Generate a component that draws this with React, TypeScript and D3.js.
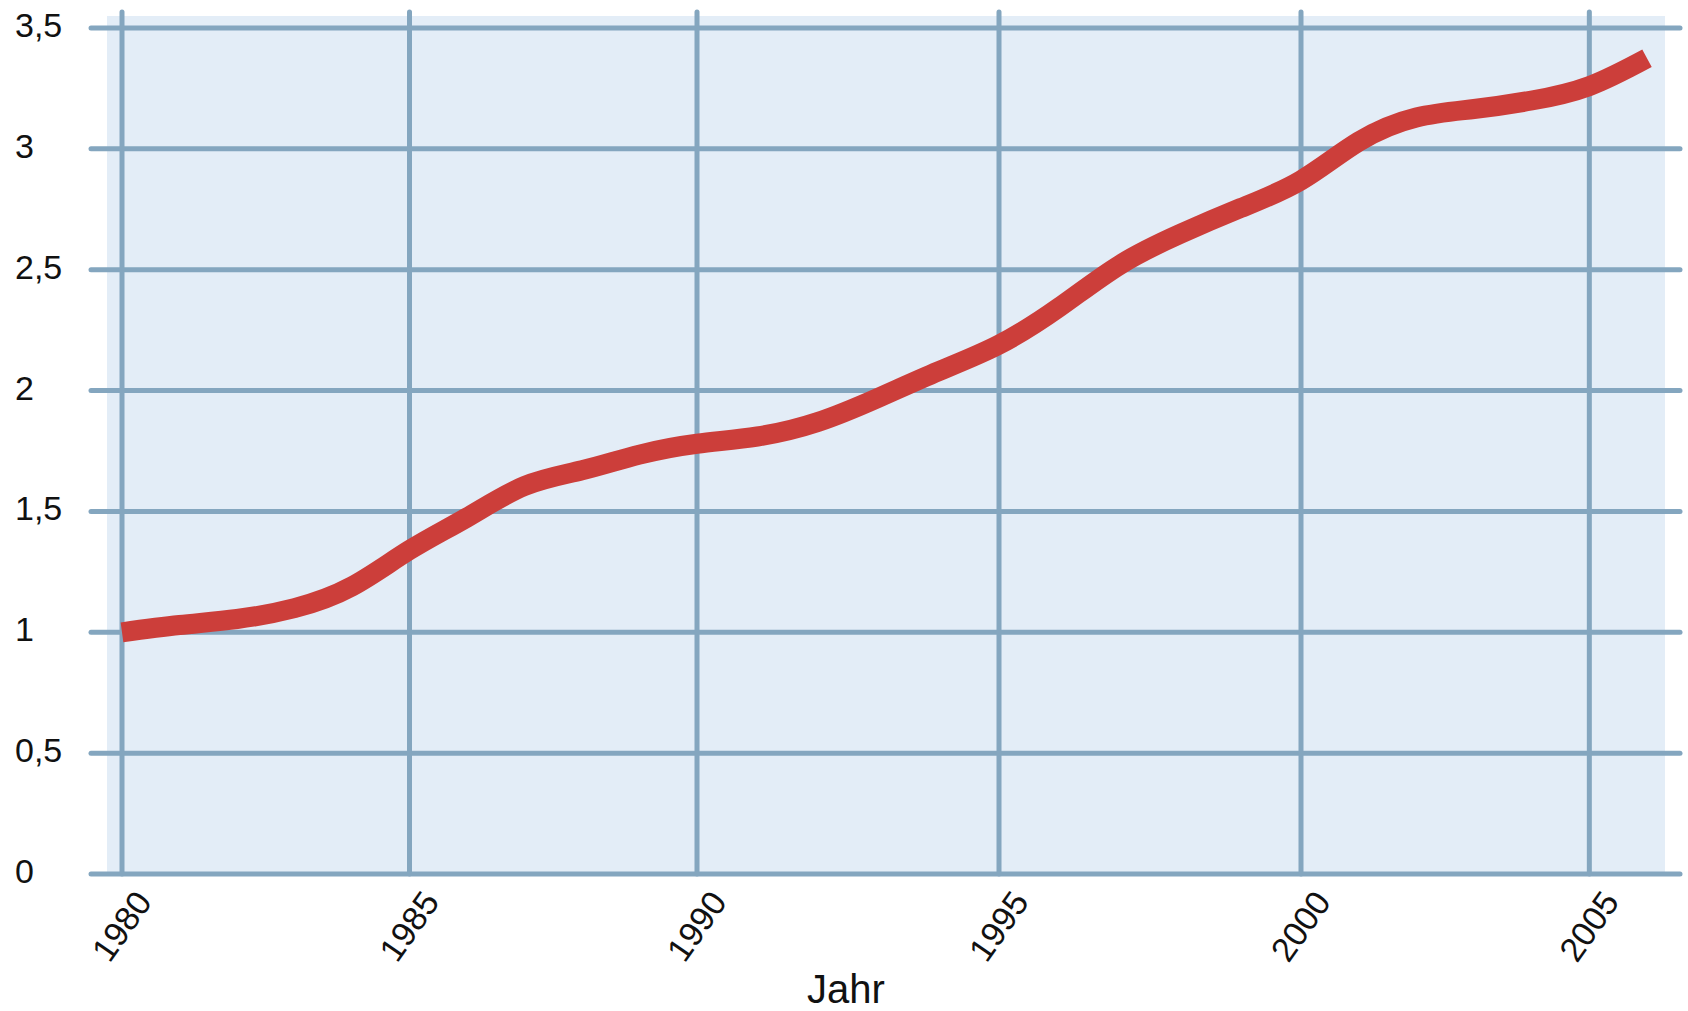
import { useEffect, useRef } from "react";
import * as d3 from "d3";

const years = [
  1980, 1981, 1982, 1983, 1984, 1985, 1986, 1987, 1988, 1989, 1990, 1991, 1992,
  1993, 1994, 1995, 1996, 1997, 1998, 1999, 2000, 2001, 2002, 2003, 2004, 2005,
  2006,
];
const values = [
  1.0, 1.03, 1.055, 1.1, 1.19, 1.34, 1.475, 1.605, 1.67, 1.735, 1.78, 1.81,
  1.87, 1.97, 2.08, 2.19, 2.345, 2.52, 2.648, 2.755, 2.87, 3.03, 3.13, 3.165,
  3.2, 3.26, 3.375,
];
const xTicks = [1980, 1985, 1990, 1995, 2000, 2005];
const yTicks = [0, 0.5, 1, 1.5, 2, 2.5, 3, 3.5];
const xTitle = "Jahr";

const W = 1688;
const H = 1011;
const GRID = "#84a6bf";
const FONT = "'Liberation Sans', Arial, sans-serif";

export default function App() {
  const ref = useRef<SVGSVGElement>(null);

  useEffect(() => {
    const svg = d3.select(ref.current);
    svg.selectAll("*").remove();

    // the year axis of the original is not evenly spaced
    const x = d3
      .scaleLinear()
      .domain([1980, 1990, 2000, 2006])
      .range([122, 697, 1301, 1647]);
    const y = d3.scaleLinear().domain([0, 3.5]).range([874, 28]);

    svg
      .append("rect")
      .attr("x", 107)
      .attr("y", 16)
      .attr("width", 1665 - 107)
      .attr("height", y(0) - 16)
      .attr("fill", "#e3edf7");

    svg
      .append("g")
      .selectAll("line")
      .data(xTicks)
      .join("line")
      .attr("x1", (d) => x(d))
      .attr("x2", (d) => x(d))
      .attr("y1", 12)
      .attr("y2", y(0))
      .attr("stroke", GRID)
      .attr("stroke-width", 5)
      .attr("stroke-linecap", "round");

    svg
      .append("g")
      .selectAll("line")
      .data(yTicks)
      .join("line")
      .attr("x1", 91)
      .attr("x2", 1680)
      .attr("y1", (d) => y(d))
      .attr("y2", (d) => y(d))
      .attr("stroke", GRID)
      .attr("stroke-width", 5)
      .attr("stroke-linecap", "round");

    const line = d3
      .line<number>()
      .x((_, i) => x(years[i]))
      .y((d) => y(d))
      .curve(d3.curveNatural);

    svg
      .append("path")
      .datum(values)
      .attr("d", line)
      .attr("fill", "none")
      .attr("stroke", "#cc3e3a")
      .attr("stroke-width", 20)
      .attr("stroke-linecap", "butt");

    const fmt = (v: number) => String(v).replace(".", ",");

    svg
      .append("g")
      .selectAll("text")
      .data(yTicks)
      .join("text")
      .attr("x", 15)
      .attr("y", (d) => y(d) - 3)
      .attr("dominant-baseline", "central")
      .attr("font-family", FONT)
      .attr("font-size", 34)
      .attr("fill", "#111")
      .text(fmt);

    svg
      .append("g")
      .selectAll("text")
      .data(xTicks)
      .join("text")
      .attr("transform", (d) => `translate(${x(d) + 31},${y(0) + 28}) rotate(-55)`)
      .attr("text-anchor", "end")
      .attr("font-family", FONT)
      .attr("font-size", 34)
      .attr("fill", "#111")
      .text((d) => String(d));

    svg
      .append("text")
      .attr("x", 846)
      .attr("y", 1003)
      .attr("text-anchor", "middle")
      .attr("font-family", FONT)
      .attr("font-size", 40)
      .attr("fill", "#111")
      .text(xTitle);
  }, []);

  return (
    <svg
      ref={ref}
      width={W}
      height={H}
      style={{ position: "absolute", left: 0, top: 0, background: "#fff" }}
    ></svg>
  );
}
